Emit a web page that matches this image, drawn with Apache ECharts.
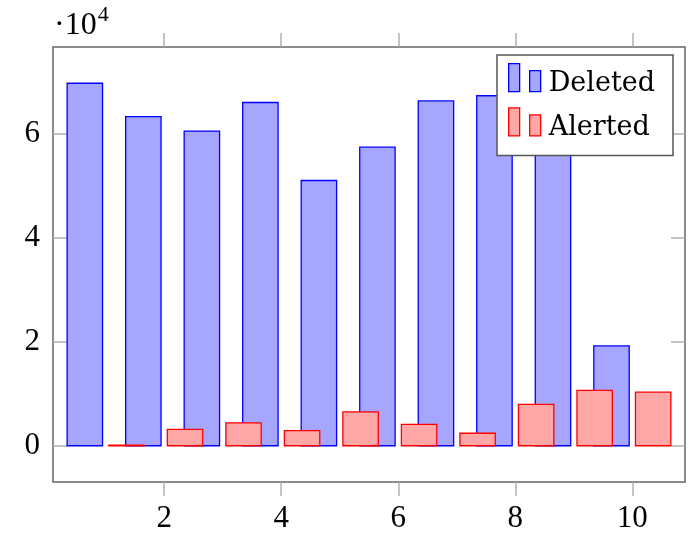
<!DOCTYPE html>
<html>
<head>
<meta charset="utf-8">
<script src="https://cdn.jsdelivr.net/npm/echarts@6/dist/echarts.min.js"></script>
<style>html,body{margin:0;padding:0;background:#fff;}#c{width:697px;height:537px;}</style>
</head>
<body>
<div id="c"></div>
<script>
var xValues = [1, 2, 3, 4, 5, 6, 7, 8, 9, 10];
var deleted = [69700, 63300, 60500, 66000, 51000, 57400, 66300, 67300, 64500, 19200];
var alerted = [100, 3150, 4400, 2900, 6500, 4100, 2400, 7950, 10640, 10300];
var xTicks = [2, 4, 6, 8, 10];
var yTicks = [0, 20000, 40000, 60000];
var seriesNames = ['Deleted', 'Alerted'];

var SERIF = 'Liberation Serif';
var halfW = 0.3025, shift = 0.356;
var blueFill = '#a6a6ff', blueLine = '#0000ff', redFill = '#ffa6a6', redLine = '#ff0000';

function pairs(vals) { return xValues.map(function (x, i) { return [x, vals[i]]; }); }
function render(off, fill, stroke) {
  return function (params, api) {
    var x = api.value(0), y = api.value(1);
    var p0 = api.coord([x + off - halfW, 0]);
    var p1 = api.coord([x + off + halfW, y]);
    return {
      type: 'rect',
      shape: { x: p0[0], y: Math.min(p0[1], p1[1]), width: p1[0] - p0[0], height: Math.max(Math.abs(p1[1] - p0[1]), 0.5) },
      style: { fill: fill, stroke: stroke, lineWidth: 1.3 }
    };
  };
}
var icon = 'path://M0,0h11v28h-11z M21,7h11v21h-11z M0,41L0.01,41';
var tickStyle = { color: '#b0b0b0', width: 1.5 };
var chart = echarts.init(document.getElementById('c'), null, { renderer: 'canvas' });
chart.setOption({
  animation: false,
  grid: { left: 53, right: 12, top: 47, bottom: 55, show: true, borderColor: '#666', borderWidth: 1.5, backgroundColor: 'transparent' },
  xAxis: [
    { type: 'value', position: 'bottom', min: 0.1, max: 10.9, splitLine: { show: false },
      axisLine: { show: false, onZero: false },
      axisTick: { show: true, inside: false, length: 14, lineStyle: tickStyle, customValues: xTicks },
      axisLabel: { show: true, customValues: xTicks, margin: 21, fontFamily: SERIF, fontSize: 31, color: '#000' } },
    { type: 'value', position: 'top', min: 0.1, max: 10.9, splitLine: { show: false },
      axisLine: { show: false, onZero: false },
      axisTick: { show: true, inside: false, length: 14, lineStyle: tickStyle, customValues: xTicks },
      axisLabel: { show: false } }
  ],
  yAxis: [
    { type: 'value', position: 'left', min: -6970, max: 76670, splitLine: { show: false },
      name: '{a|·10}{b|4}', nameLocation: 'end', nameGap: 5,
      nameTextStyle: { align: 'left', verticalAlign: 'bottom', padding: [0, 0, 0, 1],
        rich: {
          a: { fontFamily: SERIF, fontSize: 32, color: '#000', verticalAlign: 'bottom' },
          b: { fontFamily: SERIF, fontSize: 22, color: '#000', verticalAlign: 'top', padding: [0, 0, 16, 1] } } },
      axisLine: { show: false, onZero: false },
      axisTick: { show: true, inside: true, length: 14, lineStyle: tickStyle, customValues: yTicks },
      axisLabel: { show: true, customValues: yTicks, margin: 13, fontFamily: SERIF, fontSize: 31, color: '#000',
        formatter: function (v) { return String(v / 10000); } } },
    { type: 'value', position: 'right', min: -6970, max: 76670, splitLine: { show: false },
      axisLine: { show: false, onZero: false },
      axisTick: { show: true, inside: true, length: 14, lineStyle: tickStyle, customValues: yTicks },
      axisLabel: { show: false } }
  ],
  legend: {
    orient: 'vertical', left: 497, top: 55,
    padding: [8, 18, 6, 11],
    itemWidth: 32, itemHeight: 41, itemGap: 2,
    backgroundColor: '#fff', borderColor: '#555', borderWidth: 1.5,
    textStyle: { fontFamily: 'DejaVu Serif', fontSize: 27, color: '#000', padding: [0, 0, 0, 3] },
    data: [
      { name: seriesNames[0], icon: icon, itemStyle: { color: blueFill, borderColor: blueLine, borderWidth: 1.3 } },
      { name: seriesNames[1], icon: icon, itemStyle: { color: redFill, borderColor: redLine, borderWidth: 1.3 } }
    ]
  },
  series: [
    { type: 'custom', name: seriesNames[0], xAxisIndex: 0, yAxisIndex: 0, data: pairs(deleted),
      itemStyle: { color: blueFill, borderColor: blueLine }, renderItem: render(-shift, blueFill, blueLine), z: 2 },
    { type: 'custom', name: seriesNames[1], xAxisIndex: 0, yAxisIndex: 0, data: pairs(alerted),
      itemStyle: { color: redFill, borderColor: redLine }, renderItem: render(shift, redFill, redLine), z: 3 }
  ]
});
</script>
</body>
</html>
